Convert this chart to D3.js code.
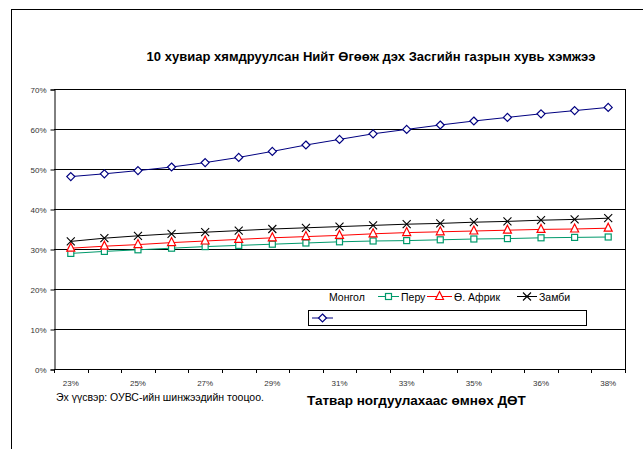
<!DOCTYPE html>
<html><head><meta charset="utf-8">
<script src="https://cdn.jsdelivr.net/npm/d3@7/dist/d3.min.js"></script>
<style>body{margin:0;background:#fff}svg{display:block}text{font-family:"Liberation Sans",Arial,sans-serif}</style>
</head><body>
<script>
const categories = ["23%","24%","25%","26%","27%","28%","29%","30%","31%","32%","33%","34%","35%","35%","36%","37%","38%"];
const mongol = [48.1,48.8,49.6,50.5,51.6,52.9,54.4,56.0,57.4,58.8,59.9,61.0,62.0,62.9,63.8,64.6,65.4];
const peru   = [28.9,29.4,29.8,30.2,30.6,30.9,31.2,31.5,31.8,32.0,32.1,32.3,32.5,32.6,32.8,32.9,33.0];
const safrica= [30.2,30.7,31.1,31.6,32.0,32.4,32.8,33.1,33.4,33.8,34.1,34.3,34.5,34.7,34.9,35.0,35.2];
const zambia = [31.9,32.7,33.3,33.8,34.2,34.6,35.0,35.3,35.6,35.9,36.2,36.4,36.7,36.9,37.2,37.4,37.7];
const yTicks = [0,10,20,30,40,50,60,70];
const seriesNames = ["Монгол","Перу","Ө. Африк","Замби"];
const title = "10 хувиар хямдруулсан Нийт Өгөөж дэх Засгийн газрын хувь хэмжээ";
const xTitle = "Татвар ногдуулахаас өмнөх  ДӨТ";
const source = "Эх үүсвэр: ОУВС-ийн шинжээдийн тооцоо.";

const W=643,H=449;
const L=54,R=625,T=89,B=369;
const svg=d3.select("body").append("svg").attr("width",W).attr("height",H);
svg.append("rect").attr("x",11.5).attr("y",9.5).attr("width",700).attr("height",500).attr("fill","none").attr("stroke","#000").attr("stroke-width",1);

const x=d3.scaleBand().domain(d3.range(categories.length)).range([L,R]).padding(0);
const y=d3.scaleLinear().domain([0,70]).range([B,T]);
const cx=i=>x(i)+x.bandwidth()/2;

// gridlines
svg.append("g").selectAll("line").data(yTicks.filter(d=>d>0)).join("line")
  .attr("x1",L).attr("x2",R).attr("y1",d=>Math.round(y(d))+0.5).attr("y2",d=>Math.round(y(d))+0.5)
  .attr("stroke","#000").attr("stroke-width",1);
svg.append("line").attr("x1",R+0.5).attr("x2",R+0.5).attr("y1",T).attr("y2",B).attr("stroke","#000");

// y axis
const ya=svg.append("g").attr("transform",`translate(${L+0.5},0.5)`)
  .call(d3.axisLeft(y).tickValues(yTicks).tickFormat(d=>d+"%").tickSize(4).tickPadding(4));
ya.select(".domain").attr("stroke","#000");
ya.selectAll(".tick line").attr("stroke","#000");
ya.selectAll("text").attr("font-size","8px").attr("fill","#333").attr("font-family","Liberation Sans, Arial, sans-serif");

// x axis
svg.append("line").attr("x1",L).attr("x2",R+1).attr("y1",B+0.5).attr("y2",B+0.5).attr("stroke","#000");
const bounds=d3.range(categories.length+1).map(i=>L+i*x.bandwidth());
svg.append("g").selectAll("line").data(bounds).join("line")
  .attr("x1",d=>Math.round(d)+0.5).attr("x2",d=>Math.round(d)+0.5).attr("y1",B).attr("y2",B+4).attr("stroke","#000");
svg.append("g").selectAll("text").data(categories.map((c,i)=>({c,i})).filter(d=>d.i%2===0)).join("text")
  .attr("x",d=>cx(d.i)).attr("y",386).attr("text-anchor","middle").attr("font-size","8px").attr("fill","#333").text(d=>d.c);

// lines
const line=d3.line().x((d,i)=>cx(i)).y(d=>y(d));
const series=[
  {name:seriesNames[0],data:mongol,color:"#000080",mark:"diamond"},
  {name:seriesNames[1],data:peru,color:"#00996b",mark:"square"},
  {name:seriesNames[2],data:safrica,color:"#ff0000",mark:"triangle"},
  {name:seriesNames[3],data:zambia,color:"#000000",mark:"x"}
];
function marker(g,type,color,px,py){
  if(type==="diamond"){
    g.append("path").attr("d",`M${px},${py-4}L${px+4},${py}L${px},${py+4}L${px-4},${py}Z`).attr("fill","#fff").attr("stroke",color).attr("stroke-width",1.2);
  }else if(type==="square"){
    g.append("rect").attr("x",px-3).attr("y",py-3).attr("width",6).attr("height",6).attr("fill","#fff").attr("stroke",color).attr("stroke-width",1.2);
  }else if(type==="triangle"){
    g.append("path").attr("d",`M${px},${py-5}L${px+4},${py+3}L${px-4},${py+3}Z`).attr("fill","#fff").attr("stroke",color).attr("stroke-width",1.2);
  }else{
    g.append("path").attr("d",`M${px-4},${py-4}L${px+4},${py+4}M${px+4},${py-4}L${px-4},${py+4}`).attr("stroke",color).attr("stroke-width",1.1);
  }
}
series.forEach(s=>{
  svg.append("path").attr("d",line(s.data)).attr("fill","none").attr("stroke",s.color).attr("stroke-width",1);
  const g=svg.append("g");
  s.data.forEach((v,i)=>marker(g,s.mark,s.color,cx(i),y(v)));
});

// title
svg.append("text").attr("x",371).attr("y",61).attr("text-anchor","middle").attr("font-size","13px").attr("font-weight","bold").attr("fill","#000").text(title);

// legend
const lg=svg.append("g").attr("font-size","10.5px").attr("fill","#000");
lg.append("text").attr("x",329).attr("y",300.5).text(seriesNames[0]);
const legItems=[{s:series[1],x1:378,x2:399,tx:401},{s:series[2],x1:427,x2:452,tx:454},{s:series[3],x1:517,x2:537,tx:539}];
const ly=296.5;
legItems.forEach(it=>{
  lg.append("line").attr("x1",it.x1).attr("x2",it.x2).attr("y1",ly).attr("y2",ly).attr("stroke",it.s.color);
  marker(lg,it.s.mark,it.s.color,(it.x1+it.x2)/2,ly);
  lg.append("text").attr("x",it.tx).attr("y",300.5).text(it.s.name);
});
svg.append("rect").attr("x",308.5).attr("y",310.5).attr("width",278).attr("height",15).attr("fill","#fff").attr("stroke","#000").attr("stroke-width",1);
svg.append("line").attr("x1",312).attr("x2",333).attr("y1",318).attr("y2",318).attr("stroke",series[0].color);
marker(svg.append("g"),"diamond",series[0].color,322.5,318);

// source and x title
svg.append("text").attr("x",56).attr("y",400.5).attr("font-size","10.5px").attr("fill","#000").text(source);
svg.append("text").attr("x",307).attr("y",405).attr("font-size","13.5px").attr("font-weight","bold").attr("fill","#000").text(xTitle);
</script>
</body></html>
